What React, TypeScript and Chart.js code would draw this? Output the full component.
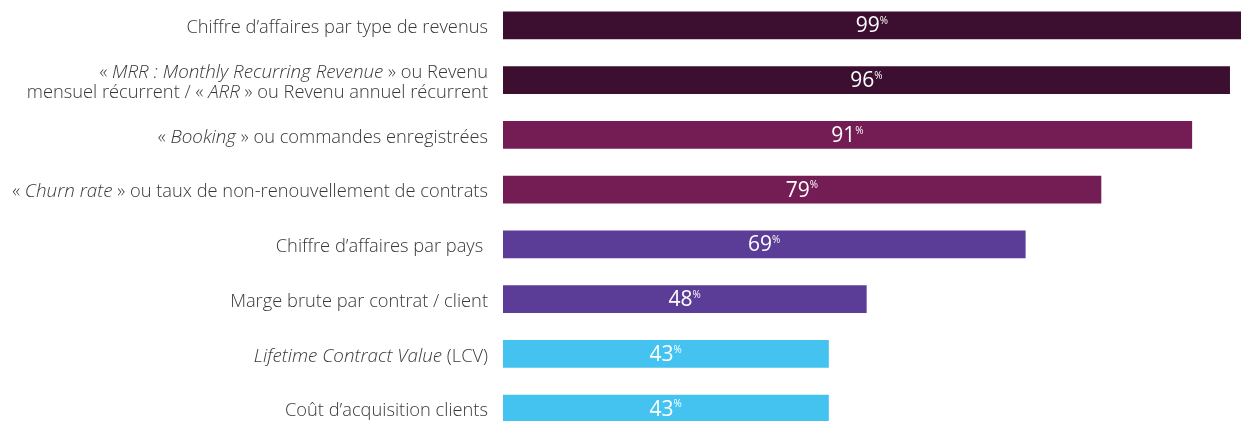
import React, { useEffect, useRef } from "react";
import { Chart, registerables } from "chart.js";

Chart.register(...registerables);

// Category labels; text between underscores is italic
const categoryLines: string[][] = [
  ["Chiffre d’affaires par type de revenus"],
  ["« _MRR : Monthly Recurring Revenue_ » ou Revenu", "mensuel récurrent / « _ARR_ » ou Revenu annuel récurrent"],
  ["« _Booking_ » ou commandes enregistrées"],
  ["« _Churn rate_ » ou taux de non-renouvellement de contrats"],
  ["Chiffre d’affaires par pays "],
  ["Marge brute par contrat / client"],
  ["_Lifetime Contract Value_ (LCV)"],
  ["Coût d’acquisition clients"],
];

const values: number[] = [99, 96, 91, 79, 69, 48, 43, 43];

const barColors: string[] = [
  "#3c0f30",
  "#3c0f30",
  "#741d55",
  "#741d55",
  "#5b3c96",
  "#5b3c96",
  "#45c3f0",
  "#45c3f0",
];

const LABEL_FONT = "'Open Sans'";
const LABEL_SIZE = 18.3;
const ITALIC_SIZE = 18.8;
const VALUE_FONT = "'Open Sans'";

const categoryLabels = categoryLines.map((lines) => lines.join(" ").replace(/_/g, ""));

const labelPlugin = {
  id: "richLabels",
  afterDraw(chart: any) {
    const ctx = chart.ctx;
    const yScale = chart.scales.y;
    const right = chart.chartArea.left - 15;
    ctx.save();
    ctx.fillStyle = "#383838";
    ctx.textBaseline = "middle";
    categoryLines.forEach((lines, i) => {
      const yc = yScale.getPixelForValue(i) + 2.5;
      const lh = 20.5;
      lines.forEach((line, li) => {
        const y = yc + (li - (lines.length - 1) / 2) * lh;
        const segs = line.split("_");
        const fonts = segs.map((_, si) =>
          si % 2 === 1
            ? `italic 300 ${ITALIC_SIZE}px ${LABEL_FONT}`
            : `300 ${LABEL_SIZE}px ${LABEL_FONT}`
        );
        let total = 0;
        segs.forEach((s, si) => {
          ctx.font = fonts[si];
          total += ctx.measureText(s).width;
        });
        let x = right - total;
        ctx.textAlign = "left";
        segs.forEach((s, si) => {
          ctx.font = fonts[si];
          ctx.fillText(s, x, y);
          x += ctx.measureText(s).width;
        });
      });
    });
    ctx.restore();
  },
};

const valuePlugin = {
  id: "valueLabels",
  afterDatasetsDraw(chart: any) {
    const ctx = chart.ctx;
    const meta = chart.getDatasetMeta(0);
    const area = chart.chartArea;
    ctx.save();
    ctx.fillStyle = "#ffffff";
    ctx.textBaseline = "middle";
    ctx.textAlign = "left";
    meta.data.forEach((bar: any, i: number) => {
      const left = bar.base;
      const right = Math.min(bar.x, area.right);
      const cx = (left + right) / 2;
      const y = bar.y + 1;
      const num = String(values[i]);
      const numFont = `500 21px ${VALUE_FONT}`;
      const pctFont = `500 10px ${VALUE_FONT}`;
      ctx.font = numFont;
      const wn = ctx.measureText(num).width;
      ctx.font = pctFont;
      const wp = ctx.measureText("%").width;
      const x0 = cx - (wn + wp) / 2;
      ctx.font = numFont;
      ctx.fillText(num, x0, y);
      ctx.font = pctFont;
      ctx.fillText("%", x0 + wn, y - 5);
    });
    ctx.restore();
  },
};

export default function App() {
  const canvasRef = useRef<HTMLCanvasElement | null>(null);

  useEffect(() => {
    if (!canvasRef.current) return;
    const chart = new Chart(canvasRef.current, {
      type: "bar",
      data: {
        labels: categoryLabels,
        datasets: [
          {
            data: values,
            backgroundColor: barColors,
            borderWidth: 0,
            barThickness: 27,
          },
        ],
      },
      options: {
        indexAxis: "y",
        animation: false,
        responsive: true,
        maintainAspectRatio: false,
        layout: { padding: 0 },
        plugins: {
          legend: { display: false },
          tooltip: { enabled: false },
        },
        scales: {
          x: {
            display: false,
            min: 0,
            max: 97.5,
          },
          y: {
            grid: { display: false },
            border: { display: false },
            ticks: { display: false },
            afterFit: (s: any) => {
              s.width = 503;
            },
          },
        },
      },
      plugins: [labelPlugin, valuePlugin],
    });
    return () => chart.destroy();
  }, []);

  return (
    <div
      style={{
        position: "fixed",
        left: 0,
        top: 0,
        width: 1241,
        height: 421,
        overflow: "hidden",
        background: "#ffffff",
      }}
    >
      <div style={{ position: "absolute", left: 0, top: -2, width: 1241, height: 438 }}>
        <canvas ref={canvasRef} />
      </div>
    </div>
  );
}
